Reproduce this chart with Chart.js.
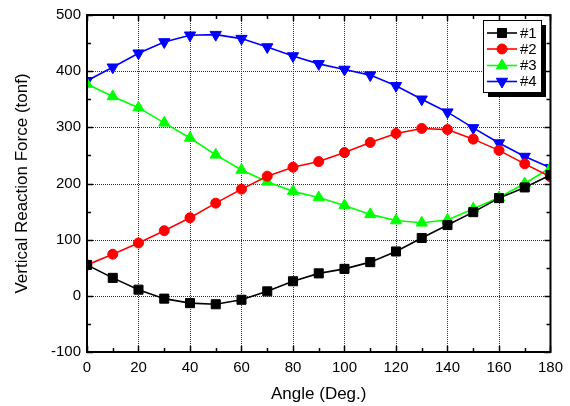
<!DOCTYPE html>
<html>
<head>
<meta charset="utf-8">
<script src="https://cdn.jsdelivr.net/npm/chart.js@4/dist/chart.umd.min.js"></script>
<style>
html,body{margin:0;padding:0;background:#fff;}
#wrap{width:570px;height:406px;position:relative;}
</style>
</head>
<body>
<div id="wrap"><canvas id="c" width="570" height="406"></canvas></div>
<script>
const angles = [0,10,20,30,40,50,60,70,80,90,100,110,120,130,140,150,160,170,180];
const s1 = [55,32,11,-5,-13,-15,-7,8,26,40,48,60,79,103,126,149,174,193,215];
const s2 = [55,74,94,116,139,165,190,213,229,239,255,273,289,298,296,279,259,235,212];
const s3 = [377,355,335,308,281,251,224,203,186,175,161,145,134,130,135,155,175,200,228];
const s4 = [383,407,432,452,464,465,458,443,427,413,403,393,374,350,327,299,272,248,228];
const seriesNames = ['#1','#2','#3','#4'];
const xTicks = [0,20,40,60,80,100,120,140,160,180];
const yTicks = [-100,0,100,200,300,400,500];

const FONT = 'Liberation Sans, Arial, sans-serif';

function mk(label, vals, color, style, radius, rot){
  return {
    label: label,
    data: angles.map((a,i)=>({x:a,y:vals[i]})),
    borderColor: color,
    backgroundColor: color,
    pointBackgroundColor: color,
    pointBorderColor: color,
    pointStyle: style,
    pointRadius: radius,
    pointRotation: rot,
    pointBorderWidth: 1,
    borderWidth: 1.6,
    tension: 0
  };
}

const frameAndGrid = {
  id: 'frameAndGrid',
  beforeDatasetsDraw(chart){
    const {ctx, chartArea: a, scales:{x,y}} = chart;
    ctx.save();
    ctx.strokeStyle = '#333';
    ctx.lineWidth = 1;
    ctx.setLineDash([1,1]);
    xTicks.forEach(v=>{
      if (v===xTicks[0]||v===xTicks[xTicks.length-1]) return;
      const px = Math.round(x.getPixelForValue(v))+0.5;
      ctx.beginPath(); ctx.moveTo(px,a.top); ctx.lineTo(px,a.bottom); ctx.stroke();
    });
    yTicks.forEach(v=>{
      if (v===yTicks[0]||v===yTicks[yTicks.length-1]) return;
      const py = Math.round(y.getPixelForValue(v))+0.5;
      ctx.beginPath(); ctx.moveTo(a.left,py); ctx.lineTo(a.right,py); ctx.stroke();
    });
    ctx.restore();
  },
  afterDatasetsDraw(chart){
    const {ctx, chartArea: a, scales:{x,y}} = chart;
    ctx.save();
    ctx.strokeStyle = '#000';
    ctx.setLineDash([]);
    ctx.lineWidth = 1.5;
    for (let v=0; v<=180; v+=10){
      const px = Math.round(x.getPixelForValue(v))+0.5;
      const L = (v%20===0)?6:4;
      ctx.beginPath(); ctx.moveTo(px,a.bottom); ctx.lineTo(px,a.bottom-L); ctx.stroke();
      ctx.beginPath(); ctx.moveTo(px,a.top); ctx.lineTo(px,a.top+L); ctx.stroke();
    }
    for (let v=-100; v<=500; v+=50){
      const py = Math.round(y.getPixelForValue(v))+0.5;
      const L = (v%100===0)?6:4;
      ctx.beginPath(); ctx.moveTo(a.left,py); ctx.lineTo(a.left+L,py); ctx.stroke();
      ctx.beginPath(); ctx.moveTo(a.right,py); ctx.lineTo(a.right-L,py); ctx.stroke();
    }
    ctx.lineWidth = 2;
    ctx.strokeRect(a.left, a.top, a.right-a.left, a.bottom-a.top);
    // legend
    const bx=483, by=20, bw=58, bh=72;
    ctx.fillStyle='#000';
    ctx.fillRect(bx+5, by+5, bw, bh);
    ctx.fillStyle='#fff';
    ctx.fillRect(bx, by, bw, bh);
    ctx.lineWidth=1;
    ctx.strokeStyle='#000';
    ctx.strokeRect(bx+0.5, by+0.5, bw, bh);
    const rows=[33,49,65.5,81.5];
    chart.data.datasets.forEach((ds,i)=>{
      const ry=rows[i];
      ctx.strokeStyle=ds.borderColor; ctx.fillStyle=ds.borderColor;
      ctx.lineWidth=1.6;
      ctx.beginPath(); ctx.moveTo(487,ry); ctx.lineTo(517,ry); ctx.stroke();
      ctx.lineWidth=1;
      Chart.helpers.drawPoint(ctx,{pointStyle:ds.pointStyle,radius:ds.pointRadius,rotation:ds.pointRotation,borderWidth:1},502,ry);
      ctx.fillStyle='#000';
      ctx.font='15px '+FONT;
      ctx.textBaseline='middle';
      ctx.textAlign='left';
      ctx.fillText(ds.label,520,ry+0.5);
    });
    ctx.restore();
  }
};

new Chart(document.getElementById('c'),{
  type:'line',
  data:{datasets:[
    mk(seriesNames[0], s1, '#000000','rect',6.4,0),
    mk(seriesNames[1], s2, '#ff0000','circle',5,0),
    mk(seriesNames[2], s3, '#00ff00','triangle',6.5,0),
    mk(seriesNames[3], s4, '#0000ff','triangle',6.5,180)
  ]},
  options:{
    responsive:false,
    animation:false,
    layout:{padding:{left:0,top:12,right:18,bottom:0}},
    plugins:{legend:{display:false},tooltip:{enabled:false}},
    scales:{
      x:{
        type:'linear',min:0,max:180,
        afterBuildTicks(s){ s.ticks = xTicks.map(v=>({value:v})); },
        afterFit(s){ s.height=54; },
        grid:{display:false,drawTicks:false},
        border:{display:false},
        ticks:{color:'#000',font:{family:FONT,size:15},padding:7,maxRotation:0},
        title:{display:true,text:'Angle (Deg.)',color:'#000',font:{family:FONT,size:17},padding:{top:0,bottom:1}}
      },
      y:{
        type:'linear',min:-100,max:500,
        afterBuildTicks(s){ s.ticks = yTicks.map(v=>({value:v})); },
        afterFit(s){ s.width=87; },
        grid:{display:false,drawTicks:false},
        border:{display:false},
        ticks:{color:'#000',font:{family:FONT,size:15},padding:6},
        title:{display:true,text:'Vertical Reaction Force (tonf)',color:'#000',font:{family:FONT,size:17},padding:{top:12,bottom:0}}
      }
    }
  },
  plugins:[frameAndGrid]
});
</script>
</body>
</html>
